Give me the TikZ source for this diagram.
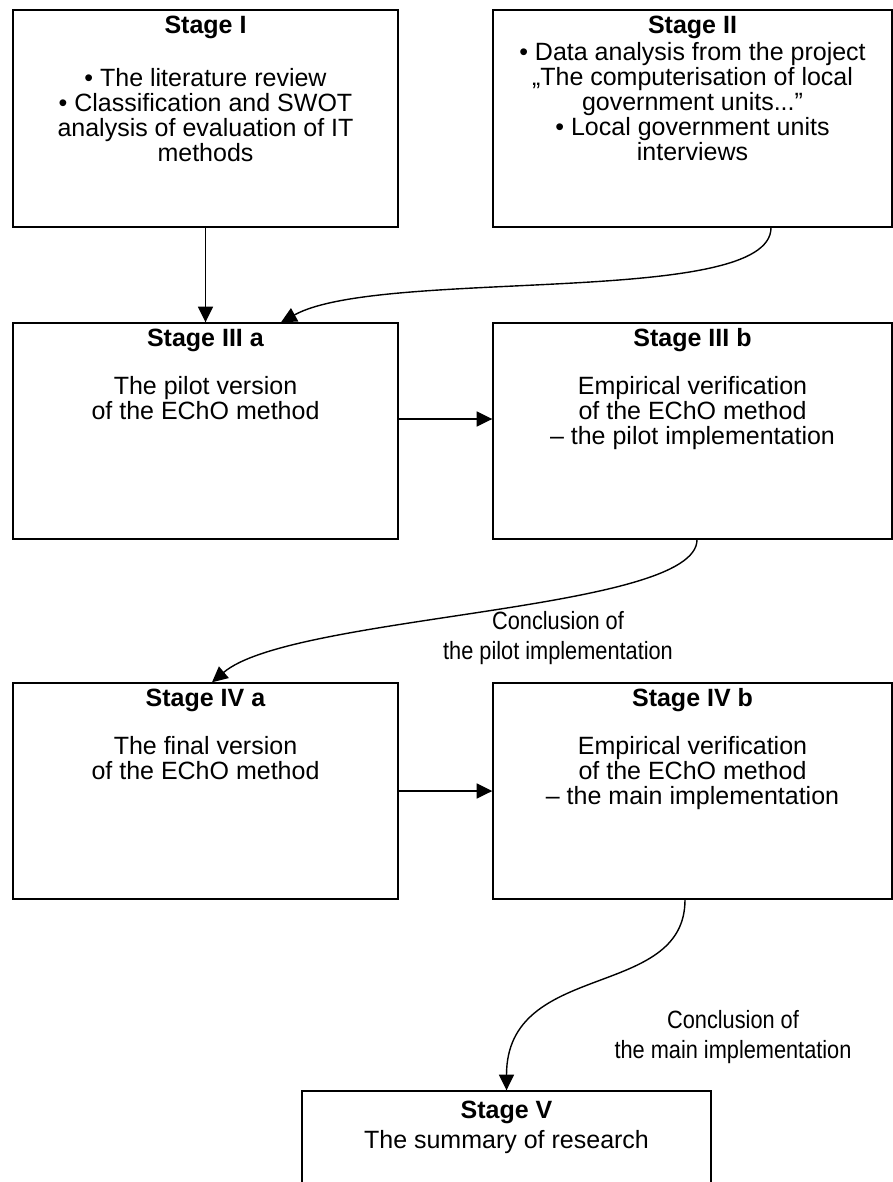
\documentclass[tikz,border=0pt]{standalone}
\usepackage{fontspec}
\setmainfont{Liberation Sans}
\newfontfamily\narrowfont[FakeStretch=0.87]{Liberation Sans}
\usetikzlibrary{arrows.meta}
\tikzset{
  stagebox/.style={draw,line width=0.7pt,minimum height=108pt,inner sep=0pt},
  stagetext/.style={anchor=north,align=center,inner sep=0pt,font=\fontsize{12.5}{12.5}\selectfont},
  conclusion/.style={align=center,inner sep=0pt,font=\narrowfont\fontsize{12.5}{15}\selectfont},
  link/.style={line width=0.7pt,-{Triangle[length=7.8pt,width=7.5pt]}}
}
\begin{document}
\begin{tikzpicture}[x=0.5pt,y=-0.5pt]
  \useasboundingbox (0,0) rectangle (893,1182);
  \clip (0,0) rectangle (893,1182);
  \node[stagebox,minimum width=192.5pt,minimum height=108.5pt] (st1) at (205.5,118.5) {};
  \node[stagebox,minimum width=199.5pt,minimum height=108.5pt] (st2) at (692.5,118.5) {};
  \node[stagebox,minimum width=192.5pt] (st3a) at (205.5,431) {};
  \node[stagebox,minimum width=199.5pt] (st3b) at (692.5,431) {};
  \node[stagebox,minimum width=192.5pt] (st4a) at (205.5,791) {};
  \node[stagebox,minimum width=199.5pt] (st4b) at (692.5,791) {};
  \node[stagebox,minimum width=204.5pt] (st5) at (506.5,1199) {};
  \node[stagetext] (st1t) at ([yshift=-3pt]st1.north) {\textbf{Stage I}\\[14pt]• The literature review\\• Classification and SWOT\\analysis of evaluation of IT\\methods};
  \node[stagetext] (st2t) at ([yshift=-3pt]st2.north) {\textbf{Stage II}\\[1pt]• Data analysis from the project\\„The computerisation of local\\government units...”\\• Local government units\\interviews};
  \node[stagetext] (st3at) at ([yshift=-3pt]st3a.north) {\textbf{Stage III a}\\[11.5pt]The pilot version\\of the EChO method};
  \node[stagetext] (st3bt) at ([yshift=-3pt]st3b.north) {\textbf{Stage III b}\\[11.5pt]Empirical verification\\of the EChO method\\– the pilot implementation};
  \node[stagetext] (st4at) at ([yshift=-3pt]st4a.north) {\textbf{Stage IV a}\\[11.5pt]The final version\\of the EChO method};
  \node[stagetext] (st4bt) at ([yshift=-3pt]st4b.north) {\textbf{Stage IV b}\\[11.5pt]Empirical verification\\of the EChO method\\– the main implementation};
  \node[stagetext] (st5t) at ([yshift=-5pt]st5.north) {\textbf{Stage V}\\[2.5pt]The summary of research};
  \node[conclusion] (pilot) at (558,638) {Conclusion of\\the pilot implementation};
  \node[conclusion] (main) at (733,1037.5) {Conclusion of\\the main implementation};
  \draw[link] (st1) -- (st3a);
  \draw[link] ([yshift=6pt]st3a.east) -- ([yshift=6pt]st3b.west);
  \draw[link] (st4a) -- (st4b);
  \draw[link] ([xshift=39.25pt]st2.south) .. controls +(0,80) and +(100,-55) .. ([xshift=37.75pt]st3a.north);
  \draw[link] ([xshift=2.25pt]st3b.south) .. controls +(0,72) and +(80,-68) .. ([xshift=3.25pt]st4a.north);
  \draw[link] ([xshift=-3.75pt]st4b.south) .. controls +(0,101) and +(0,-131) .. (st5.north);
\end{tikzpicture}
\end{document}
